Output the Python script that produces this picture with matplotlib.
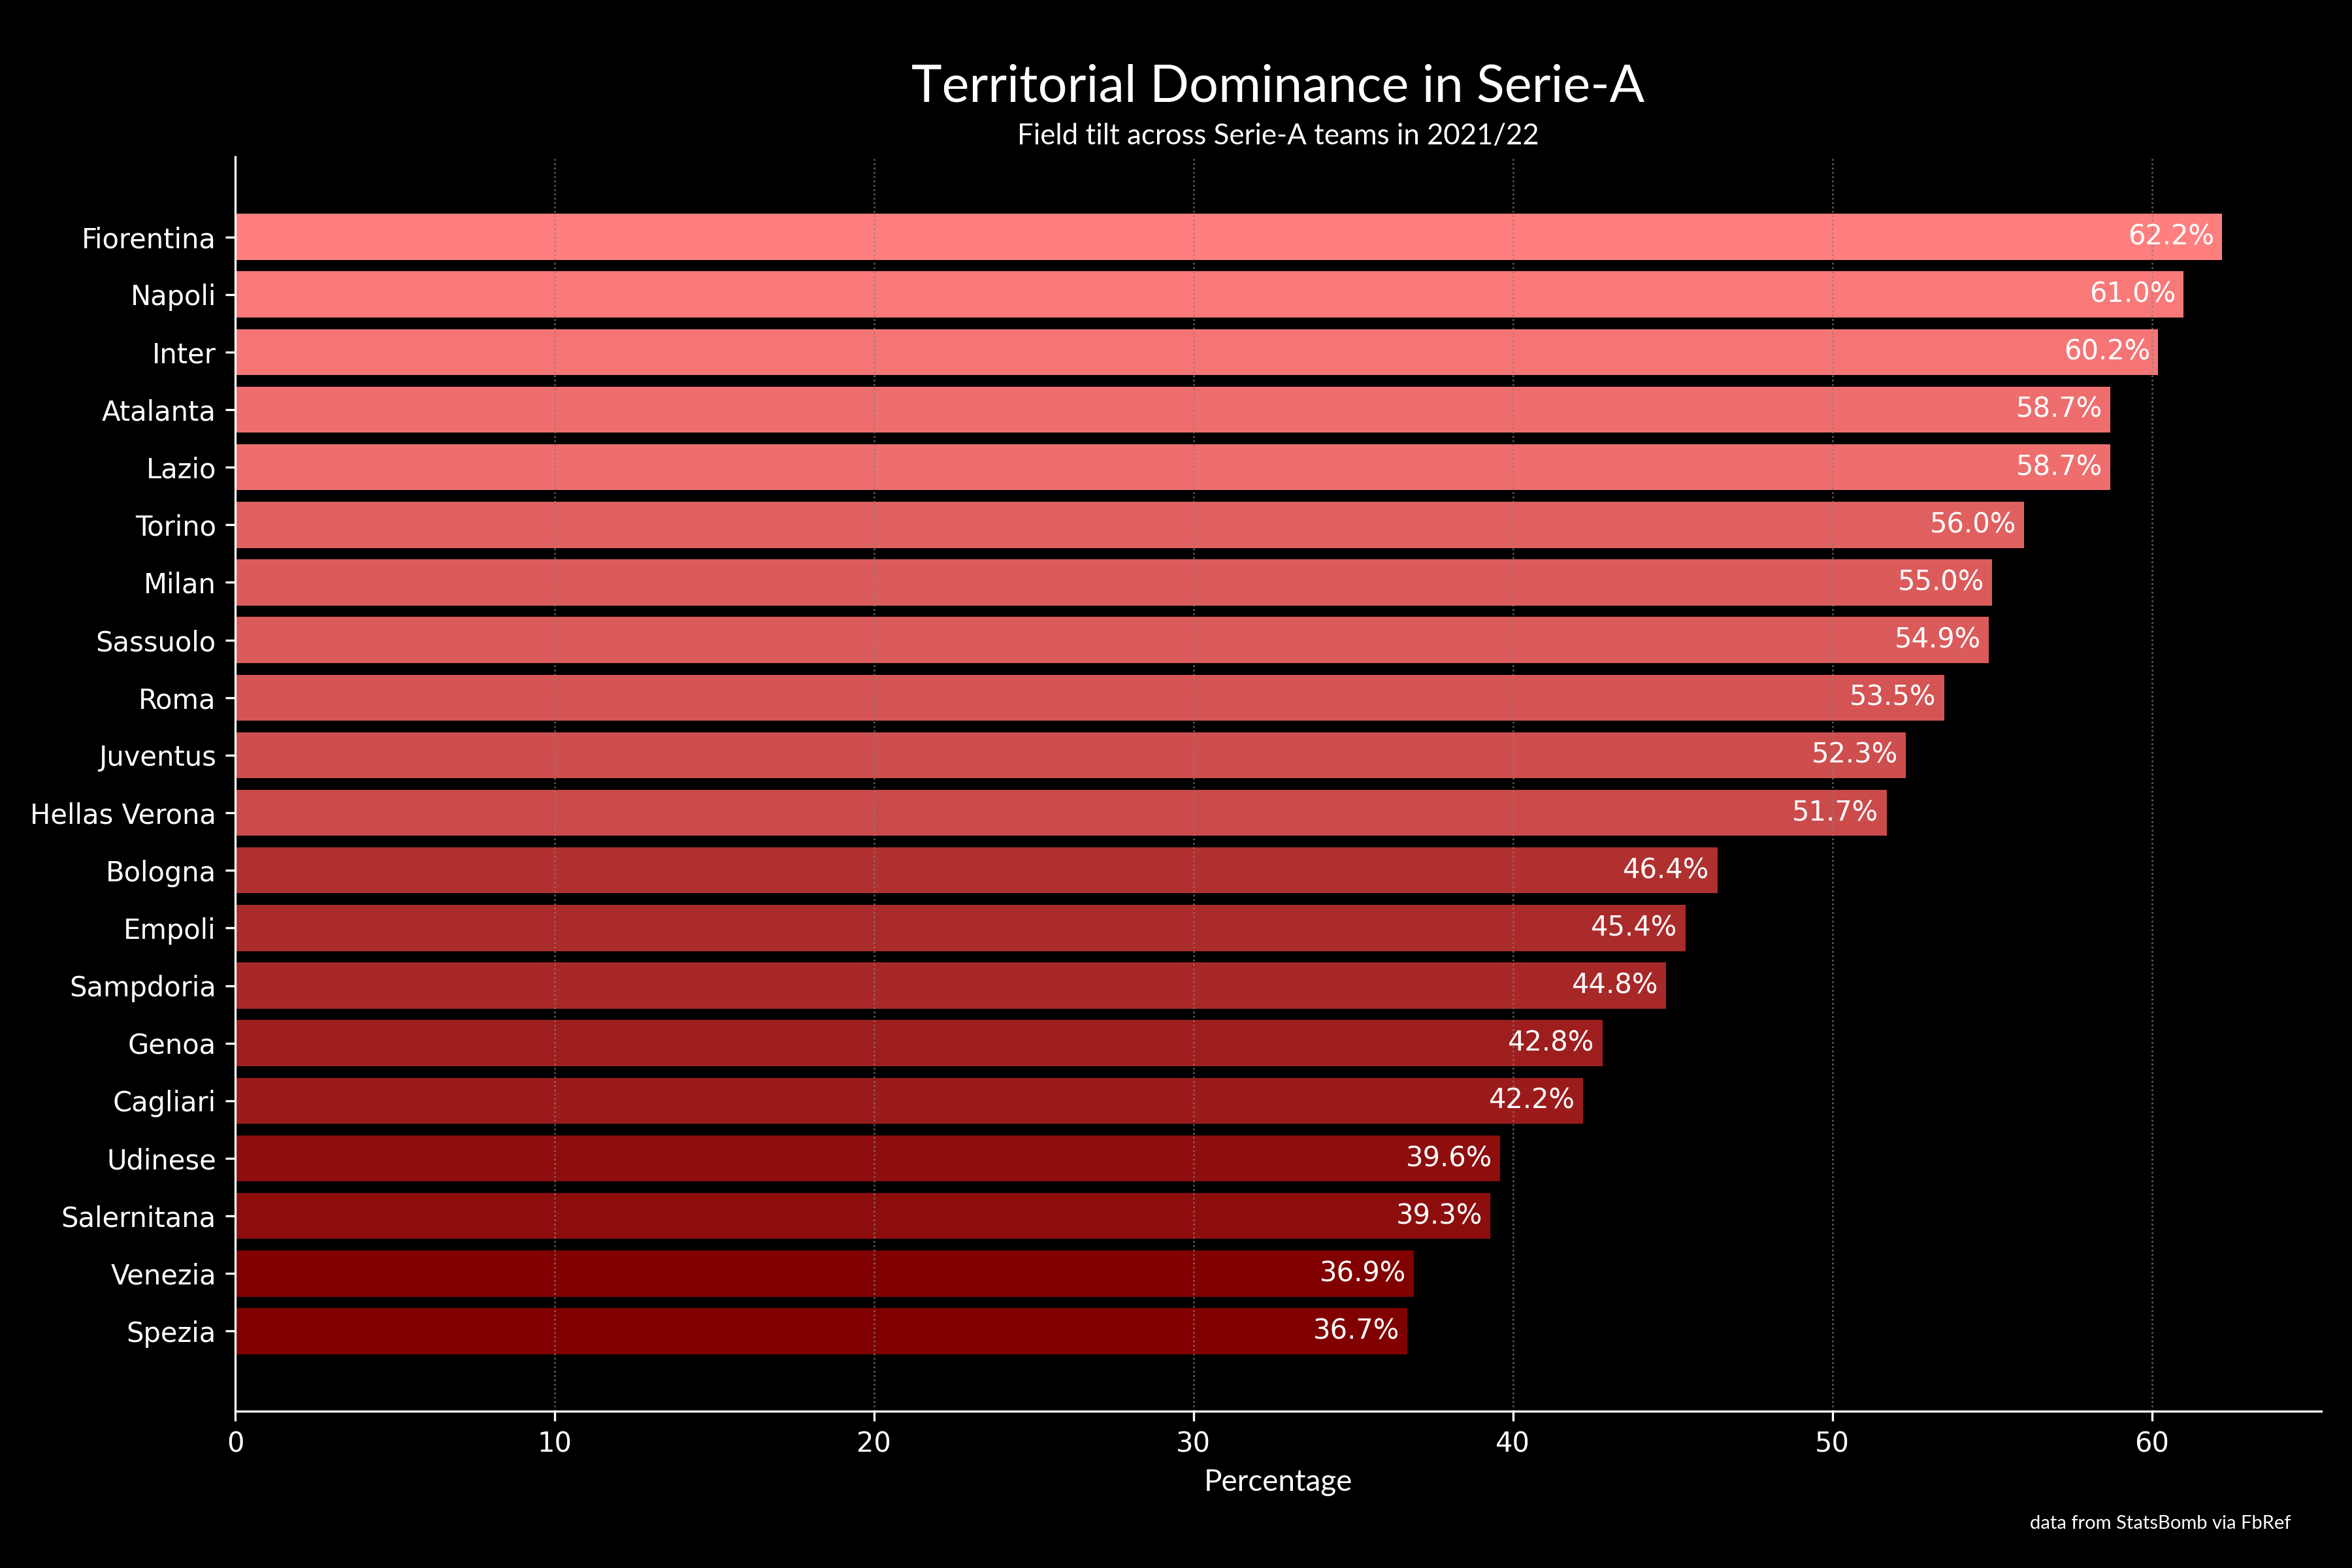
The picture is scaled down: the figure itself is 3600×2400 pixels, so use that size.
import matplotlib
matplotlib.use('Agg')
import matplotlib.pyplot as plt
from matplotlib.colors import LinearSegmentedColormap, Normalize

# field tilt per team, 2021/22
teams = ['Fiorentina', 'Napoli', 'Inter', 'Atalanta', 'Lazio', 'Torino', 'Milan',
         'Sassuolo', 'Roma', 'Juventus', 'Hellas Verona', 'Bologna', 'Empoli',
         'Sampdoria', 'Genoa', 'Cagliari', 'Udinese', 'Salernitana', 'Venezia', 'Spezia']
field_tilt = [62.2, 61.0, 60.2, 58.7, 58.7, 56.0, 55.0, 54.9, 53.5, 52.3, 51.7,
              46.4, 45.4, 44.8, 42.8, 42.2, 39.6, 39.3, 36.9, 36.7]

title_font = 'Lato'

# dark red -> light red depending on value
cmap = LinearSegmentedColormap.from_list('reds', ['#800000', '#ff7f7f'])
norm = Normalize(min(field_tilt), max(field_tilt))

fig, ax = plt.subplots(figsize=(12, 8), dpi=300)
fig.patch.set_facecolor('black')
ax.set_facecolor('black')
plt.subplots_adjust(left=0.1, right=0.987, top=0.9, bottom=0.1)

# plot from the bottom up so Fiorentina sits on top
ypos = list(range(len(teams)))[::-1]
colors = [cmap(norm(v)) for v in field_tilt]
ax.barh(ypos, field_tilt, height=0.8, color=colors)

for y, v in zip(ypos, field_tilt):
    ax.annotate(f'{v:.1f}%', xy=(v, y), xytext=(-3, 0), textcoords='offset points',
                ha='right', va='center', color='white', fontsize=10)

ax.set_yticks(ypos)
ax.set_yticklabels(teams)
ax.tick_params(colors='white', labelsize=10)
ax.grid(axis='x', linestyle=':', color='gray', alpha=0.8, linewidth=0.6)

for s in ['top', 'right']:
    ax.spines[s].set_visible(False)
for s in ['left', 'bottom']:
    ax.spines[s].set_color('white')

ax.set_xlabel('Percentage', color='white', fontsize=11, family=title_font)

cx = (0.1 + 0.987) / 2
fig.text(cx, 0.935, 'Territorial Dominance in Serie-A', ha='center', va='baseline',
         color='white', fontsize=19, family=title_font)
fig.text(cx, 0.908, 'Field tilt across Serie-A teams in 2021/22', ha='center', va='baseline',
         color='white', fontsize=10.5, family=title_font)
fig.text(0.974, 0.025, 'data from StatsBomb via FbRef', ha='right', va='baseline',
         color='white', fontsize=7, family=title_font)

plt.savefig('out.png', facecolor='black')
